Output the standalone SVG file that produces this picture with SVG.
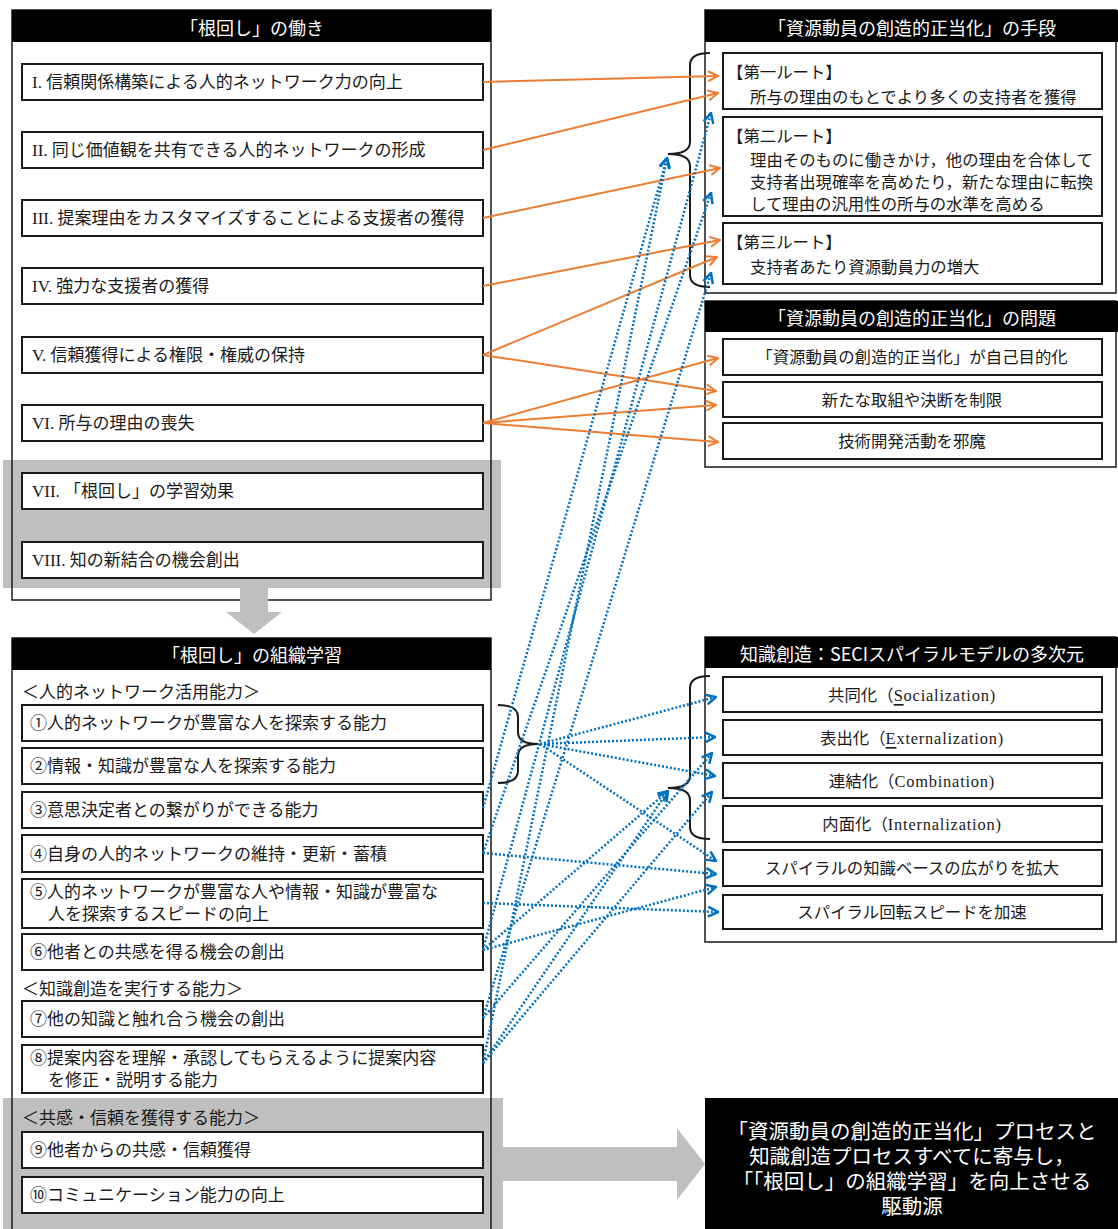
<svg xmlns="http://www.w3.org/2000/svg" width="1118" height="1229" viewBox="0 0 1118 1229">
<style>
.t{font-family:"Liberation Serif","Noto Sans CJK JP",serif;font-size:17px;fill:#1a1a1a;dominant-baseline:central}
.r{font-size:16.4px}
.c{text-anchor:middle}
.lat{letter-spacing:0.8px}
.h{font-family:"Noto Sans CJK JP",sans-serif;font-size:18px;fill:#fff;dominant-baseline:central;text-anchor:middle}
.big{font-family:"Liberation Sans","Noto Sans CJK JP",sans-serif;font-size:20.5px;fill:#fff;dominant-baseline:central;text-anchor:middle}
.box{fill:#fff;stroke:#1a1a1a;stroke-width:2}
.panel{fill:none;stroke:#1a1a1a;stroke-width:1.5}
.bg{fill:#fff}
.hdr{fill:#000}
.gray{fill:#bfbfbf}
.or{fill:none;stroke:#ED7D31;stroke-width:2;marker-end:url(#ao)}
.bl{fill:none;stroke:#0070C0;stroke-width:2.5;stroke-dasharray:2 2;marker-end:url(#ab)}
.br{fill:none;stroke:#1a1a1a;stroke-width:2}
</style>
<defs>
<marker id="ao" viewBox="0 0 12 12" refX="11" refY="6" markerWidth="12" markerHeight="12" markerUnits="userSpaceOnUse" orient="auto"><path d="M1,1 L11,6 L1,11" fill="none" stroke="#ED7D31" stroke-width="2"/></marker>
<marker id="ab" viewBox="0 0 12 12" refX="11" refY="6" markerWidth="12" markerHeight="12" markerUnits="userSpaceOnUse" orient="auto"><path d="M1,1 L11,6 L1,11" fill="none" stroke="#0070C0" stroke-width="2.5"/></marker>
</defs>
<rect width="1118" height="1229" fill="#fff"/>

<!-- Top-left panel -->
<g id="panel-hataraki">
<rect class="bg" x="12" y="10" width="479" height="590"/>
<rect class="gray" x="3" y="460" width="498" height="128"/>
<rect class="panel" x="12" y="10" width="479" height="590"/>
<rect class="hdr" x="12" y="10" width="479" height="32"/>
<text class="h" x="252" y="27">「根回し」の働き</text>
</g>
<g id="item-I"><rect class="box" x="22" y="64" width="461" height="36"/><text class="t" x="32" y="82">I. 信頼関係構築による人的ネットワーク力の向上</text></g>
<g id="item-II"><rect class="box" x="22" y="132" width="461" height="36"/><text class="t" x="32" y="150">II. 同じ価値観を共有できる人的ネットワークの形成</text></g>
<g id="item-III"><rect class="box" x="22" y="200" width="461" height="36"/><text class="t" x="32" y="218">III. 提案理由をカスタマイズすることによる支援者の獲得</text></g>
<g id="item-IV"><rect class="box" x="22" y="268" width="461" height="36"/><text class="t" x="32" y="286">IV. 強力な支援者の獲得</text></g>
<g id="item-V"><rect class="box" x="22" y="337" width="461" height="36"/><text class="t" x="32" y="355">V. 信頼獲得による権限・権威の保持</text></g>
<g id="item-VI"><rect class="box" x="22" y="405" width="461" height="36"/><text class="t" x="32" y="423">VI. 所与の理由の喪失</text></g>
<g id="item-VII"><rect class="box" x="22" y="473" width="461" height="36"/><text class="t" x="32" y="491">VII. 「根回し」の学習効果</text></g>
<g id="item-VIII"><rect class="box" x="22" y="542" width="461" height="36"/><text class="t" x="32" y="560">VIII. 知の新結合の機会創出</text></g>

<g id="arrow-down"><path class="gray" d="M240 588 H268 V612 H282 L254 634 L226 612 H240 Z"/></g>

<!-- Bottom-left panel -->
<g id="panel-soshiki">
<rect class="bg" x="12" y="638" width="479" height="600"/>
<rect class="gray" x="3" y="1098" width="500" height="140"/>
<rect class="panel" x="12" y="638" width="479" height="600"/>
<rect class="hdr" x="12" y="638" width="479" height="32"/>
<text class="h" x="252" y="654">「根回し」の組織学習</text>
<text class="t" x="22" y="692">＜人的ネットワーク活用能力＞</text>
<text class="t" x="22" y="989">＜知識創造を実行する能力＞</text>
<text class="t" x="22" y="1118">＜共感・信頼を獲得する能力＞</text>
</g>
<g id="item-1"><rect class="box" x="22" y="705" width="461" height="36"/><text class="t" x="30" y="723">①人的ネットワークが豊富な人を探索する能力</text></g>
<g id="item-2"><rect class="box" x="22" y="748" width="461" height="36"/><text class="t" x="30" y="766">②情報・知識が豊富な人を探索する能力</text></g>
<g id="item-3"><rect class="box" x="22" y="792" width="461" height="36"/><text class="t" x="30" y="810">③意思決定者との繋がりができる能力</text></g>
<g id="item-4"><rect class="box" x="22" y="835" width="461" height="37"/><text class="t" x="30" y="854">④自身の人的ネットワークの維持・更新・蓄積</text></g>
<g id="item-5"><rect class="box" x="22" y="879" width="461" height="49"/><text class="t" x="30" y="892">⑤人的ネットワークが豊富な人や情報・知識が豊富な</text><text class="t" x="48" y="914">人を探索するスピードの向上</text></g>
<g id="item-6"><rect class="box" x="22" y="934" width="461" height="36"/><text class="t" x="30" y="952">⑥他者との共感を得る機会の創出</text></g>
<g id="item-7"><rect class="box" x="22" y="1001" width="461" height="36"/><text class="t" x="30" y="1019">⑦他の知識と触れ合う機会の創出</text></g>
<g id="item-8"><rect class="box" x="22" y="1045" width="461" height="48"/><text class="t" x="30" y="1058">⑧提案内容を理解・承認してもらえるように提案内容</text><text class="t" x="48" y="1080">を修正・説明する能力</text></g>
<g id="item-9"><rect class="box" x="22" y="1132" width="461" height="36"/><text class="t" x="30" y="1150">⑨他者からの共感・信頼獲得</text></g>
<g id="item-10"><rect class="box" x="22" y="1177" width="461" height="36"/><text class="t" x="30" y="1195">⑩コミュニケーション能力の向上</text></g>

<!-- Right panel: 手段 -->
<g id="panel-shudan">
<rect class="bg" x="705" y="10" width="411" height="283"/>
<rect class="panel" x="705" y="10" width="411" height="283"/>
<rect class="hdr" x="705" y="10" width="413" height="32"/>
<text class="h" x="912" y="27">「資源動員の創造的正当化」の手段</text>
</g>
<g id="route-1"><rect class="box" x="723" y="53" width="379" height="56"/><text class="t r" x="727" y="72">【第一ルート】</text><text class="t r" x="750" y="97">所与の理由のもとでより多くの支持者を獲得</text></g>
<g id="route-2"><rect class="box" x="723" y="117" width="379" height="99"/><text class="t r" x="727" y="136">【第二ルート】</text><text class="t r" x="750" y="160">理由そのものに働きかけ，他の理由を合体して</text><text class="t r" x="750" y="182">支持者出現確率を高めたり，新たな理由に転換</text><text class="t r" x="750" y="204">して理由の汎用性の所与の水準を高める</text></g>
<g id="route-3"><rect class="box" x="723" y="223" width="379" height="61"/><text class="t r" x="727" y="242">【第三ルート】</text><text class="t r" x="750" y="267">支持者あたり資源動員力の増大</text></g>
<g id="brace-shudan"><path class="br" d="M710,53 Q690,53 690,65 L690,142 Q690,154 668,154 Q690,154 690,166 L690,275 Q690,287 710,287"/></g>

<!-- Right panel: 問題 -->
<g id="panel-mondai">
<rect class="bg" x="705" y="301" width="411" height="166"/>
<rect class="panel" x="705" y="301" width="411" height="166"/>
<rect class="hdr" x="705" y="301" width="413" height="31"/>
<text class="h" x="912" y="317">「資源動員の創造的正当化」の問題</text>
</g>
<g id="prob-1"><rect class="box" x="723" y="339" width="379" height="36"/><text class="t r c" x="912" y="357">「資源動員の創造的正当化」が自己目的化</text></g>
<g id="prob-2"><rect class="box" x="723" y="382" width="379" height="35"/><text class="t r c" x="912" y="400">新たな取組や決断を制限</text></g>
<g id="prob-3"><rect class="box" x="723" y="423" width="379" height="36"/><text class="t r c" x="912" y="441">技術開発活動を邪魔</text></g>

<!-- Right panel: SECI -->
<g id="panel-seci">
<rect class="bg" x="705" y="637" width="411" height="305"/>
<rect class="panel" x="705" y="637" width="411" height="305"/>
<rect class="hdr" x="705" y="637" width="413" height="31"/>
<text class="h" x="912" y="653">知識創造：SECIスパイラルモデルの多次元</text>
</g>
<g id="seci-S"><rect class="box" x="723" y="677" width="379" height="35"/><text class="t r c" x="912" y="695">共同化（<tspan class="lat"><tspan text-decoration="underline">S</tspan>ocialization)</tspan></text></g>
<g id="seci-E"><rect class="box" x="723" y="720" width="379" height="35"/><text class="t r c" x="912" y="738">表出化（<tspan class="lat"><tspan text-decoration="underline">E</tspan>xternalization)</tspan></text></g>
<g id="seci-C"><rect class="box" x="723" y="763" width="379" height="35"/><text class="t r c" x="912" y="781">連結化（<tspan class="lat">Combination)</tspan></text></g>
<g id="seci-I"><rect class="box" x="723" y="806" width="379" height="36"/><text class="t r c" x="912" y="824">内面化（<tspan class="lat">Internalization)</tspan></text></g>
<g id="seci-base"><rect class="box" x="723" y="850" width="379" height="36"/><text class="t r c" x="912" y="868">スパイラルの知識ベースの広がりを拡大</text></g>
<g id="seci-speed"><rect class="box" x="723" y="895" width="379" height="34"/><text class="t r c" x="912" y="912">スパイラル回転スピードを加速</text></g>
<g id="brace-seci"><path class="br" d="M710,676 Q690,676 690,688 L690,776 Q690,788 668,788 Q690,788 690,800 L690,827 Q690,839 710,839"/></g>
<g id="bracket-12"><path class="br" d="M498,705 Q518,705 518,717 L518,732 Q518,744 538,744 Q518,744 518,756 L518,771 Q518,783 498,783"/></g>

<!-- Bottom arrow & result -->
<g id="arrow-right"><path class="gray" d="M501 1147 H677 V1128 L705 1164 L677 1200 V1181 H501 Z"/></g>
<g id="result">
<rect class="hdr" x="705" y="1098" width="413" height="131"/>
<text class="big" x="912" y="1131">「資源動員の創造的正当化」プロセスと</text>
<text class="big" x="912" y="1156">知識創造プロセスすべてに寄与し，</text>
<text class="big" x="912" y="1181">「「根回し」の組織学習」を向上させる</text>
<text class="big" x="912" y="1206">駆動源</text>
</g>

<!-- Connectors -->
<g id="connectors">
<line class="or" x1="483" y1="82" x2="718" y2="76"/>
<line class="or" x1="483" y1="150" x2="718" y2="93"/>
<line class="or" x1="483" y1="218" x2="720" y2="168"/>
<line class="or" x1="483" y1="286" x2="720" y2="240"/>
<line class="or" x1="483" y1="355" x2="717" y2="257"/>
<line class="or" x1="483" y1="355" x2="716" y2="391"/>
<line class="or" x1="483" y1="423" x2="718" y2="358"/>
<line class="or" x1="483" y1="423" x2="716" y2="405"/>
<line class="or" x1="483" y1="423" x2="718" y2="442"/>

<line class="bl" x1="483" y1="808" x2="667" y2="158"/>
<line class="bl" x1="483" y1="853" x2="711" y2="193"/>
<line class="bl" x1="483" y1="950" x2="711" y2="113"/>
<line class="bl" x1="483" y1="1018" x2="711" y2="273"/>
<line class="bl" x1="483" y1="1063" x2="667" y2="158"/>

<line class="bl" x1="540" y1="744" x2="716" y2="697"/>
<line class="bl" x1="540" y1="744" x2="715" y2="737"/>
<line class="bl" x1="540" y1="744" x2="715" y2="776"/>
<line class="bl" x1="540" y1="744" x2="716" y2="861"/>
<line class="bl" x1="483" y1="853" x2="716" y2="874"/>
<line class="bl" x1="483" y1="903" x2="718" y2="912"/>
<line class="bl" x1="483" y1="950" x2="716" y2="887"/>
<line class="bl" x1="483" y1="950" x2="668" y2="791"/>
<line class="bl" x1="483" y1="1018" x2="712" y2="753"/>
<line class="bl" x1="483" y1="1063" x2="668" y2="791"/>
<line class="bl" x1="483" y1="1063" x2="712" y2="792"/>
</g>
</svg>
